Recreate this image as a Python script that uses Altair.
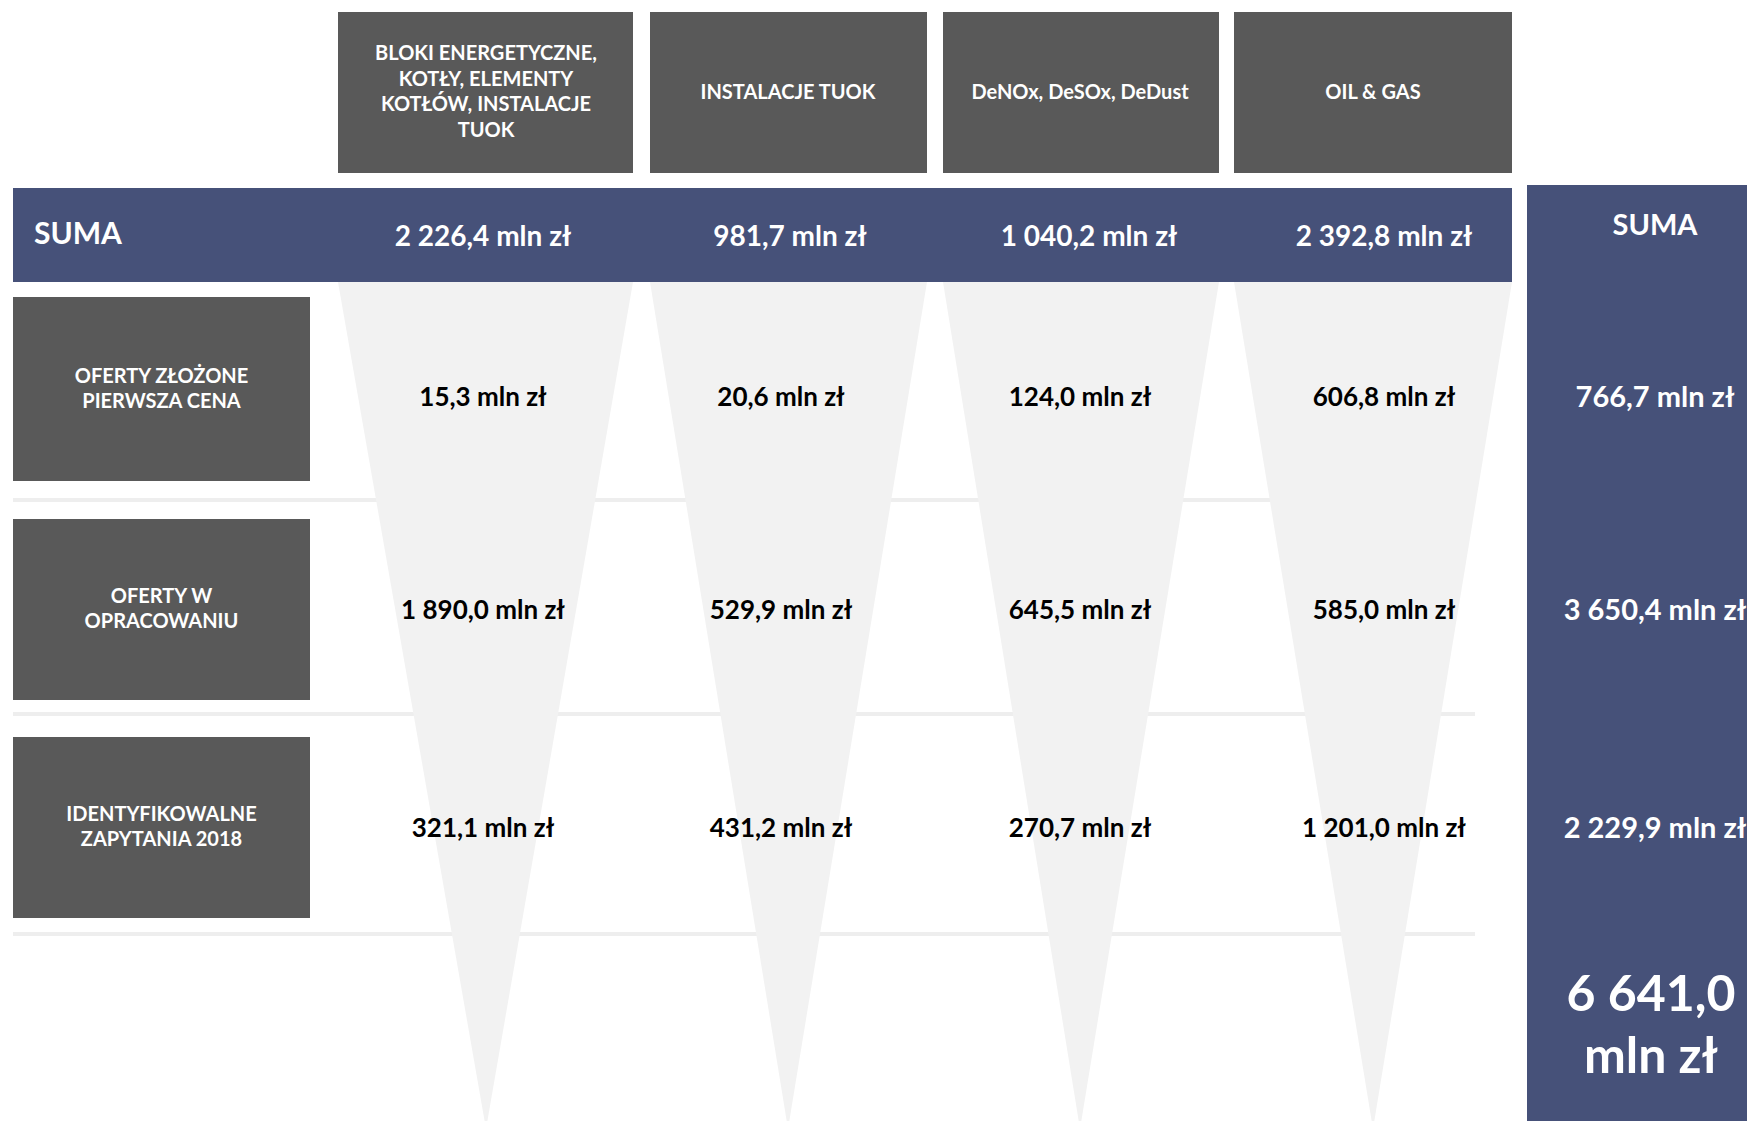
import altair as alt
import pandas as pd

# ---------------- data ----------------
categories = ["BLOKI ENERGETYCZNE,\nKOTŁY, ELEMENTY\nKOTŁÓW, INSTALACJE\nTUOK",
              "INSTALACJE TUOK", "DeNOx, DeSOx, DeDust", "OIL & GAS"]
stages = ["OFERTY ZŁOŻONE\nPIERWSZA CENA", "OFERTY W\nOPRACOWANIU", "IDENTYFIKOWALNE\nZAPYTANIA 2018"]
category_sums = [2226.4, 981.7, 1040.2, 2392.8]
offers_submitted = [15.3, 20.6, 124.0, 606.8]
offers_in_progress = [1890.0, 529.9, 645.5, 585.0]
inquiries_2018 = [321.1, 431.2, 270.7, 1201.0]
stage_sums = [766.7, 3650.4, 2229.9]
grand_total = 6641.0
sum_label = "SUMA"

# ---------------- layout (page pixels) ----------------
W, H = 1739, 1113
X0, Y0 = 8, 8
col_left = [338, 650, 943, 1234]
col_right = [633, 927, 1219, 1512]
col_apex = [486, 788, 1080, 1373]
band_text_x = [483, 790, 1089, 1384]
cell_text_x = [483, 781, 1080, 1384]
header_top, header_bottom = 12, 173
band_left, band_right, band_top, band_bottom = 13, 1512, 188, 282
panel_left, panel_right, panel_top, panel_bottom = 1527, 1760, 185, 1140
row_box_left, row_box_right = 13, 310
row_box_top = [297, 519, 737]
row_box_bottom = [481, 700, 918]
row_text_y = [398, 611, 829]
sep_y = [500, 714, 934]
sep_left, sep_right = 13, 1475
tri_bottom = 1129
panel_x = 1655

NAVY = "#465179"
GRAY = "#595959"
LIGHT = "#f2f2f2"
FONT = "Lato"


def fmt(v):
    s = f"{v:,.1f}".replace(",", " ").replace(".", ",")
    return s + " mln zł"


def first_line_y(center, text, lh):
    n = text.count("\n") + 1
    return center - (n - 1) * lh / 2


xs = alt.Scale(domain=[X0, X0 + W], zero=False, nice=False)
ys = alt.Scale(domain=[Y0, Y0 + H], zero=False, nice=False, reverse=True)


def X(f):
    return alt.X(f"{f}:Q", scale=xs, axis=None)


def Y(f):
    return alt.Y(f"{f}:Q", scale=ys, axis=None)


# triangles
tri = []
for i in range(4):
    tri.append({"c": i, "y": band_bottom, "xl": col_left[i], "xr": col_right[i]})
    tri.append({"c": i, "y": tri_bottom, "xl": col_apex[i], "xr": col_apex[i]})
tri_df = pd.DataFrame(tri)
triangles = alt.Chart(tri_df).mark_area(orient="horizontal", color=LIGHT, clip=True).encode(
    y=Y("y"), x=X("xl"), x2="xr", detail="c:N")

sep_df = pd.DataFrame({"y": sep_y, "x": [sep_left] * 3, "x2": [sep_right] * 3})
seps = alt.Chart(sep_df).mark_rule(color="#eeeeee", strokeWidth=4).encode(
    x=X("x"), x2="x2", y=Y("y"))

rects = []
for i in range(4):
    rects.append({"x": col_left[i], "x2": col_right[i], "y": header_top, "y2": header_bottom, "k": "g"})
for i in range(3):
    rects.append({"x": row_box_left, "x2": row_box_right, "y": row_box_top[i], "y2": row_box_bottom[i], "k": "g"})
rects.append({"x": band_left, "x2": band_right, "y": band_top, "y2": band_bottom, "k": "n"})
rects.append({"x": panel_left, "x2": panel_right, "y": panel_top, "y2": panel_bottom, "k": "n"})
rect_df = pd.DataFrame(rects)
boxes = alt.Chart(rect_df).mark_rect(clip=True).encode(
    x=X("x"), x2="x2", y=Y("y"), y2="y2",
    color=alt.Color("k:N", scale=alt.Scale(domain=["g", "n"], range=[GRAY, NAVY]), legend=None))

# header texts
HLH = 25.6
hdr_df = pd.DataFrame({"x": col_apex,
                       "y": [first_line_y((header_top + header_bottom) / 2, t, HLH) for t in categories],
                       "t": categories})
hdr_text = alt.Chart(hdr_df).mark_text(lineBreak="\n", font=FONT, fontWeight="bold", fontSize=20,
                                       color="white", lineHeight=HLH, align="center", baseline="middle").encode(
    x=X("x"), y=Y("y"), text="t:N")

# row labels
RLH = 25
rl_df = pd.DataFrame({"x": [(row_box_left + row_box_right) / 2] * 3,
                      "y": [first_line_y((a + b) / 2, t, RLH)
                            for a, b, t in zip(row_box_top, row_box_bottom, stages)],
                      "t": stages})
rl_text = alt.Chart(rl_df).mark_text(lineBreak="\n", font=FONT, fontWeight="bold", fontSize=20,
                                     color="white", lineHeight=RLH, align="center", baseline="middle").encode(
    x=X("x"), y=Y("y"), text="t:N")

# SUMA label in band
suma_df = pd.DataFrame({"x": [34], "y": [(band_top + band_bottom) / 2], "t": [sum_label]})
suma_text = alt.Chart(suma_df).mark_text(font=FONT, fontWeight="bold", fontSize=30, color="white",
                                         align="left", baseline="middle").encode(
    x=X("x"), y=Y("y"), text="t:N")

# band values
bv_df = pd.DataFrame({"x": band_text_x, "y": [(band_top + band_bottom) / 2 + 3] * 4,
                      "t": [fmt(v) for v in category_sums]})
bv_text = alt.Chart(bv_df).mark_text(font=FONT, fontWeight="bold", fontSize=28, color="white",
                                     align="center", baseline="middle").encode(
    x=X("x"), y=Y("y"), text="t:N")

# cell values
cells = []
for r, vals in enumerate([offers_submitted, offers_in_progress, inquiries_2018]):
    for c, v in enumerate(vals):
        cells.append({"x": cell_text_x[c], "y": row_text_y[r], "t": fmt(v)})
cell_df = pd.DataFrame(cells)
cell_text = alt.Chart(cell_df).mark_text(font=FONT, fontWeight="bold", fontSize=26, color="black",
                                         align="center", baseline="middle").encode(
    x=X("x"), y=Y("y"), text="t:N")

# right panel
rp_df = pd.DataFrame({"x": [panel_x] * 4, "y": [226] + row_text_y,
                      "t": [sum_label] + [fmt(v) for v in stage_sums]})
rp_text = alt.Chart(rp_df).mark_text(font=FONT, fontWeight="bold", fontSize=29, color="white",
                                     align="center", baseline="middle").encode(
    x=X("x"), y=Y("y"), text="t:N")

GLH = 62
gt = fmt(grand_total).replace(" mln", "\nmln")
gt_df = pd.DataFrame({"x": [1651], "y": [first_line_y(1027, gt, GLH)], "t": [gt]})
gt_text = alt.Chart(gt_df).mark_text(lineBreak="\n", font=FONT, fontWeight="bold", fontSize=50,
                                     color="white", lineHeight=GLH, align="center", baseline="middle").encode(
    x=X("x"), y=Y("y"), text="t:N")

chart = alt.layer(seps, triangles, boxes, hdr_text, rl_text, suma_text, bv_text, cell_text,
                  rp_text, gt_text).properties(width=W, height=H, padding=0).configure_view(stroke=None)

chart.save("out.html", embed_options={"renderer": "svg", "actions": False})
